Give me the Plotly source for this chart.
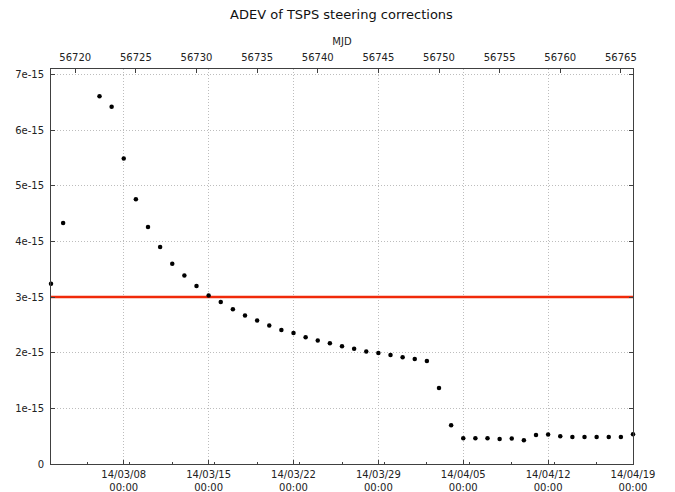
import plotly.graph_objects as go

dates = ["2014-03-02", "2014-03-03", "2014-03-06", "2014-03-07", "2014-03-08", "2014-03-09",
         "2014-03-10", "2014-03-11", "2014-03-12", "2014-03-13", "2014-03-14", "2014-03-15",
         "2014-03-16", "2014-03-17", "2014-03-18", "2014-03-19", "2014-03-20", "2014-03-21",
         "2014-03-22", "2014-03-23", "2014-03-24", "2014-03-25", "2014-03-26", "2014-03-27",
         "2014-03-28", "2014-03-29", "2014-03-30", "2014-03-31", "2014-04-01", "2014-04-02",
         "2014-04-03", "2014-04-04", "2014-04-05", "2014-04-06", "2014-04-07", "2014-04-08",
         "2014-04-09", "2014-04-10", "2014-04-11", "2014-04-12", "2014-04-13", "2014-04-14",
         "2014-04-15", "2014-04-16", "2014-04-17", "2014-04-18", "2014-04-19"]
adev_e15 = [3.24, 4.33, 6.61, 6.42, 5.49, 4.76, 4.26, 3.90, 3.60, 3.39, 3.20, 3.03,
            2.91, 2.78, 2.67, 2.58, 2.49, 2.41, 2.355, 2.28, 2.22, 2.17, 2.115, 2.07,
            2.02, 1.995, 1.96, 1.92, 1.886, 1.85, 1.364, 0.697, 0.463, 0.463, 0.463, 0.45,
            0.457, 0.427, 0.52, 0.53, 0.50, 0.487, 0.487, 0.487, 0.487, 0.487, 0.535]
adev = [v * 1e-15 for v in adev_e15]

threshold = 3e-15

date_ticks = ["2014-03-08", "2014-03-15", "2014-03-22", "2014-03-29", "2014-04-05", "2014-04-12", "2014-04-19"]
date_labels = ["14/03/08<br>00:00", "14/03/15<br>00:00", "14/03/22<br>00:00", "14/03/29<br>00:00",
               "14/04/05<br>00:00", "14/04/12<br>00:00", "14/04/19<br>00:00"]
y_ticks = [0, 1e-15, 2e-15, 3e-15, 4e-15, 5e-15, 6e-15, 7e-15]
y_labels = ["0", "1e-15", "2e-15", "3e-15", "4e-15", "5e-15", "6e-15", "7e-15"]
mjd_range = [56718, 56766]
date_range = ["2014-03-02", "2014-04-19"]

axcol = "#404040"
gridcol = "#bdbdbd"
font = dict(family="DejaVu Sans", size=10, color="#222222")

# page body has an 8px default margin: figure is sized so it fills the 675x492 window
W, H = 667, 484

fig = go.Figure()
fig.add_trace(go.Scatter(x=date_range, y=[threshold, threshold], mode="lines",
                         line=dict(color="#f02a0a", width=2.5), showlegend=False, hoverinfo="skip"))
fig.add_trace(go.Scatter(x=dates, y=adev, mode="markers", cliponaxis=False,
                         marker=dict(color="black", size=4.5, symbol="circle", line=dict(width=0)),
                         showlegend=False))
# invisible trace for MJD axis
fig.add_trace(go.Scatter(x=mjd_range, y=[None, None], xaxis="x2", mode="markers", showlegend=False,
                         hoverinfo="skip"))

fig.update_layout(
    width=W, height=H,
    margin=dict(l=43, r=42, t=61, b=28, autoexpand=False),
    plot_bgcolor="white", paper_bgcolor="white",
    font=font,
    title=dict(text="ADEV of TSPS steering corrections", x=0.5, xanchor="center",
               y=1 - 6 / H, yanchor="middle", font=dict(family="DejaVu Sans", size=13, color="#111111")),
    xaxis=dict(type="date", range=date_range, tickvals=date_ticks, ticktext=date_labels,
               showgrid=True, gridcolor=gridcol, griddash="1px,2px", gridwidth=1,
               showline=True, linecolor=axcol, linewidth=1, mirror=True,
               ticks="inside", ticklen=4, tickcolor=axcol, ticklabelstandoff=1,
               minor=dict(dtick=3.5 * 86400000, tick0="2014-03-01T12:00", ticks="inside", ticklen=2,
                          tickcolor=axcol, showgrid=False),
               zeroline=False, tickfont=font, automargin=False),
    xaxis2=dict(overlaying="x", side="top", range=mjd_range, dtick=5, tick0=56720, tickformat="d",
                showgrid=False, showline=False, ticks="inside", ticklen=4, tickcolor=axcol,
                ticklabelstandoff=5,
                title=dict(text="MJD", font=font, standoff=4), zeroline=False, tickfont=font,
                automargin=False),
    yaxis=dict(range=[0, 7.1e-15], tickvals=y_ticks, ticktext=y_labels,
               showgrid=True, gridcolor=gridcol, griddash="1px,2px", gridwidth=1,
               showline=True, linecolor=axcol, linewidth=1, mirror="ticks",
               ticks="inside", ticklen=4, tickcolor=axcol, ticklabelstandoff=4,
               zeroline=False, tickfont=font, automargin=False),
)

fig.write_html("out.html")
